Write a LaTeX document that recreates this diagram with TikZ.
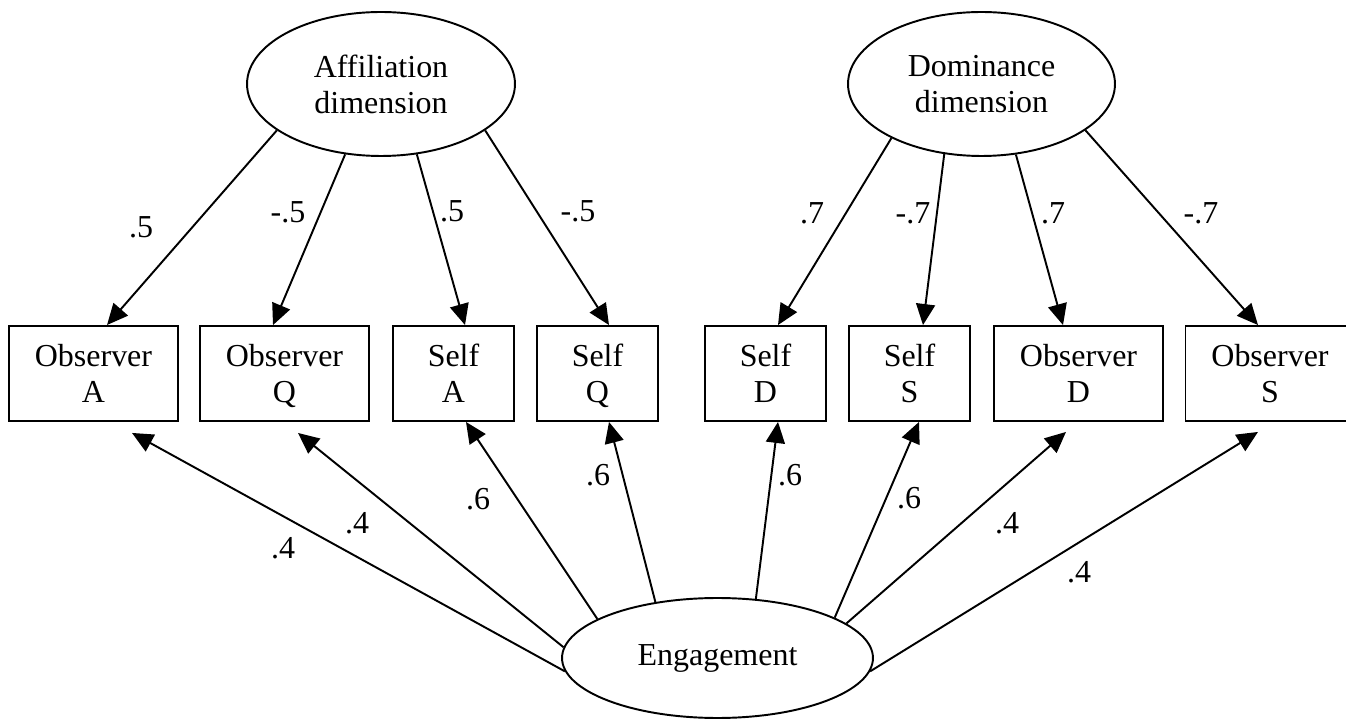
\documentclass[tikz,border=0pt]{standalone}
\usepackage{fontspec}
\setmainfont{Liberation Serif}
\usetikzlibrary{shapes.geometric,arrows.meta}
\tikzset{
  latent/.style={ellipse, draw, line width=1.1pt, inner sep=0pt, align=center},
  manifest/.style={rectangle, draw, line width=1.1pt, minimum height=1.9cm, inner sep=0pt, text depth=0pt, align=center},
  wide/.style={minimum width=3.38cm},
  narrow/.style={minimum width=2.42cm},
  loading/.style={draw, line width=1.1pt, -{Triangle[length=0.42cm,width=0.38cm]}},
  coef/.style={inner sep=0pt}
}
\begin{document}
\begin{tikzpicture}[x=0.02cm, y=-0.02cm, font=\fontsize{18.2}{20.5}\selectfont]
  \useasboundingbox (0,0) rectangle (1346,719);

  % Latent dimensions
  \node [latent, minimum width=5.36cm, minimum height=2.88cm] (aff) at (381,84) {Affiliation\\dimension};
  \node [latent, minimum width=5.34cm, minimum height=2.88cm] (dom) at (981.5,84) {Dominance\\dimension};
  \node [latent, minimum width=6.22cm, minimum height=2.4cm] (eng) at (717.5,658) {Engagement};

  % Observed ratings
  \node [manifest, wide] (obsA) at (93.5,373.5) {Observer\\A};
  \node [manifest, wide] (obsQ) at (284.5,373.5) {Observer\\Q};
  \node [manifest, narrow] (selfA) at (453.5,373.5) {Self\\A};
  \node [manifest, narrow] (selfQ) at (597.5,373.5) {Self\\Q};
  \node [manifest, narrow] (selfD) at (765.5,373.5) {Self\\D};
  \node [manifest, narrow] (selfS) at (909.5,373.5) {Self\\S};
  \node [manifest, wide] (obsD) at (1078.5,373.5) {Observer\\D};
  \node [manifest, wide] (obsS) at (1270,373.5) {Observer\\S};

  % Affiliation loadings
  \draw [loading] (aff.204) -- ([xshift=0.27cm]obsA.north);
  \draw [loading] (aff.243) -- ([xshift=-0.23cm]obsQ.north);
  \draw [loading] (aff.297) -- ([xshift=0.23cm]selfA.north);
  \draw [loading] (aff.336) -- ([xshift=0.23cm]selfQ.north);
  \node [coef] (la1) at (141,227) {.5};
  \node [coef] (la2) at (288,212) {-.5};
  \node [coef] (la3) at (452,211) {.5};
  \node [coef] (la4) at (578,211) {-.5};

  % Dominance loadings
  \draw [loading] (dom.211) -- ([xshift=0.25cm]selfD.north);
  \draw [loading] (dom.242) -- ([xshift=0.27cm]selfS.north);
  \draw [loading] (dom.296) -- ([xshift=-0.31cm]obsD.north);
  \draw [loading] (dom.336) -- ([xshift=-0.24cm]obsS.north);
  \node [coef] (ld1) at (812,213) {.7};
  \node [coef] (ld2) at (913,213) {-.7};
  \node [coef] (ld3) at (1053,213) {.7};
  \node [coef] (ld4) at (1201,213) {-.7};

  % Engagement loadings
  \draw [loading] (eng.185) -- ([xshift=0.77cm,yshift=-0.22cm]obsA.south);
  \draw [loading] (eng.176) -- ([xshift=0.27cm,yshift=-0.22cm]obsQ.south);
  \draw [loading] (eng.162) -- ([xshift=0.25cm]selfA.south);
  \draw [loading] (eng.138) -- ([xshift=0.23cm]selfQ.south);
  \draw [loading] (eng.57) -- ([xshift=0.25cm]selfD.south);
  \draw [loading] (eng.19) -- ([xshift=0.19cm]selfS.south);
  \draw [loading] (eng.15) -- ([xshift=-0.25cm,yshift=-0.2cm]obsD.south);
  \draw [loading] (eng.355) -- ([xshift=-0.24cm,yshift=-0.2cm]obsS.south);
  \node [coef] (le1) at (283,548) {.4};
  \node [coef] (le2) at (357,523) {.4};
  \node [coef] (le3) at (478,499) {.6};
  \node [coef] (le4) at (598,475) {.6};
  \node [coef] (le5) at (790,475) {.6};
  \node [coef] (le6) at (909,498) {.6};
  \node [coef] (le7) at (1007,523) {.4};
  \node [coef] (le8) at (1079,572) {.4};
\end{tikzpicture}
\end{document}
